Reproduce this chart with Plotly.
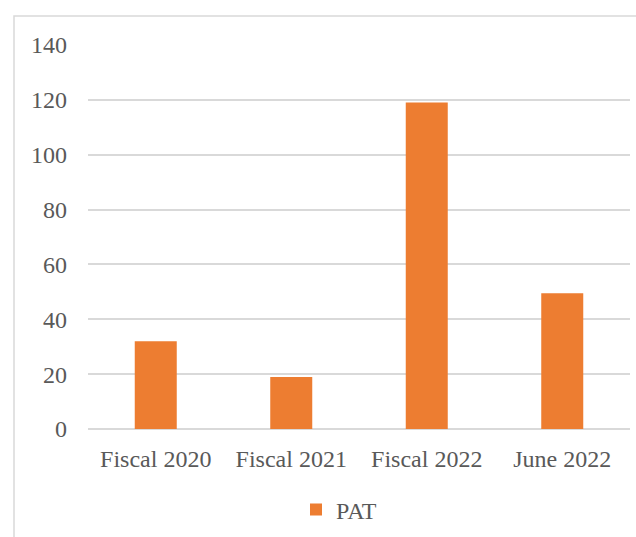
import plotly.graph_objects as go

categories = ["Fiscal 2020", "Fiscal 2021", "Fiscal 2022", "June 2022"]
pat = [32, 19, 119, 49.5]
y_ticks = [0, 20, 40, 60, 80, 100, 120, 140]

W, H = 636, 537
L, R, T, B = 88, 6, 45, 107
pw = W - L - R
ph = H - T - B

def px_x(x):
    return (x - L) / pw

def px_y(y):
    return (H - B - y) / ph

fig = go.Figure(
    go.Bar(
        x=categories,
        y=pat,
        name="PAT",
        marker=dict(color="#ED7D31", line=dict(width=0)),
        width=0.31,
    )
)

fig.update_layout(
    width=W,
    height=H,
    autosize=False,
    margin=dict(l=L, r=R, t=T, b=B, pad=0),
    paper_bgcolor="white",
    plot_bgcolor="white",
    font=dict(family="Liberation Serif, Times New Roman, serif", size=24, color="#595959"),
    showlegend=True,
    legend=dict(
        orientation="h",
        x=px_x(296),
        y=px_y(510),
        xanchor="left",
        yanchor="middle",
        font=dict(size=24, color="#595959"),
        bgcolor="rgba(0,0,0,0)",
    ),
    xaxis=dict(
        showgrid=False,
        showline=False,
        ticks="",
        ticklabelstandoff=13,
    ),
    yaxis=dict(
        range=[0, 140],
        tickvals=y_ticks,
        showgrid=True,
        gridcolor="#d9d9d9",
        gridwidth=1.5,
        zeroline=True,
        zerolinecolor="#d9d9d9",
        zerolinewidth=1.5,
        showline=False,
        ticks="",
        ticklabelstandoff=20,
    ),
    shapes=[
        dict(
            type="rect",
            xref="paper",
            yref="paper",
            x0=px_x(14),
            x1=px_x(720),
            y0=px_y(620),
            y1=px_y(16),
            line=dict(color="#d9d9d9", width=1.5),
            fillcolor="rgba(0,0,0,0)",
            layer="below",
        )
    ],
)

fig.write_html(
    "out.html",
    config={"displayModeBar": False},
    post_script="document.body.style.margin='0';document.body.style.overflow='hidden';",
)
